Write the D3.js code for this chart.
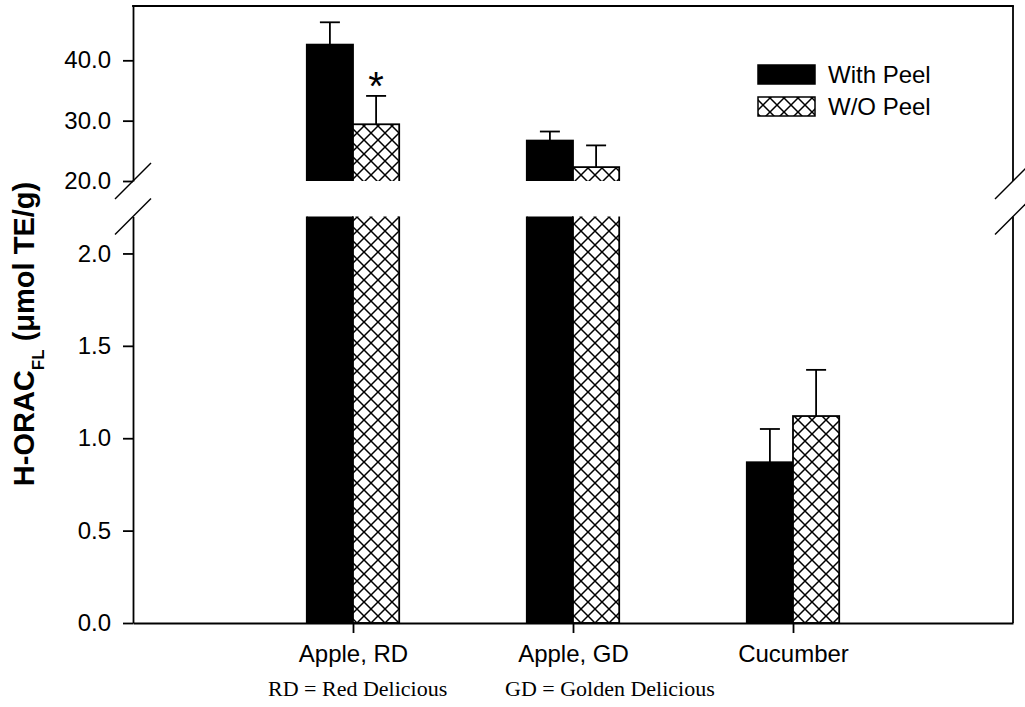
<!DOCTYPE html>
<html>
<head>
<meta charset="utf-8">
<script src="https://cdn.jsdelivr.net/npm/d3@7"></script>
<style>
  html, body { margin: 0; padding: 0; background: #fff; }
  svg { display: block; }
</style>
</head>
<body>
<div id="chart"></div>
<script>
// ---- data ----
const categories = ["Apple, RD", "Apple, GD", "Cucumber"];
const seriesNames = ["With Peel", "W/O Peel"];
const withPeel = [42.6, 26.7, 0.87];
const withPeelErr = [3.7, 1.5, 0.18];
const woPeel = [29.4, 22.3, 1.12];
const woPeelErr = [4.7, 3.6, 0.25];
const upperTicks = [20, 30, 40];
const lowerTicks = [0, 0.5, 1.0, 1.5, 2.0];
const significance = ["*", "", ""]; // marker on W/O Peel bars
const footnotes = ["RD = Red Delicious", "GD = Golden Delicious"];

// ---- layout ----
const W = 1025, H = 707;
const SANS = "Liberation Sans, Arial, sans-serif";
const SERIF = "Liberation Serif, Times New Roman, serif";
const svg = d3.select("#chart").append("svg").attr("width", W).attr("height", H)
  .attr("font-family", SANS);

const x = d3.scaleLinear().domain([0, 4]).range([133, 1013]);
const yUp = d3.scaleLinear().domain([20, 49]).range([181, 6]);
const yLow = d3.scaleLinear().domain([0, 2.2]).range([623, 216.5]);
const lowMax = 2.2, upMin = 20;
const barW = x(0.21) - x(0);
const lw = 1.8;

const defs = svg.append("defs");
const pat = defs.append("pattern").attr("id", "hatch")
  .attr("patternUnits", "userSpaceOnUse").attr("width", 14).attr("height", 14);
pat.append("rect").attr("width", 14).attr("height", 14).attr("fill", "#fff");
pat.append("path").attr("d", "M0,0 L14,14 M14,0 L0,14")
  .attr("stroke", "#000").attr("stroke-width", 1.5);

defs.append("clipPath").attr("id", "clipUp").append("rect")
  .attr("x", x(0)).attr("y", yUp(49)).attr("width", x(4) - x(0)).attr("height", yUp(upMin) - yUp(49));
defs.append("clipPath").attr("id", "clipLow").append("rect")
  .attr("x", x(0)).attr("y", yLow(lowMax)).attr("width", x(4) - x(0)).attr("height", yLow(0) - yLow(lowMax));

const series = [
  { name: seriesNames[0], vals: withPeel, errs: withPeelErr, fill: "#000", off: -1 },
  { name: seriesNames[1], vals: woPeel, errs: woPeelErr, fill: "url(#hatch)", off: 0 }
];

const gUp = svg.append("g").attr("clip-path", "url(#clipUp)");
const gLow = svg.append("g").attr("clip-path", "url(#clipLow)");

series.forEach(s => {
  s.vals.forEach((v, i) => {
    const x0 = x(i + 1) + s.off * barW;
    // lower segment (bar runs past the break and is clipped there)
    const lowTop = v > lowMax ? yLow(lowMax) - 20 : yLow(v);
    gLow.append("rect")
      .attr("x", x0).attr("width", barW)
      .attr("y", lowTop).attr("height", yLow(0) - lowTop)
      .attr("fill", s.fill).attr("stroke", "#000").attr("stroke-width", lw);
    // upper segment
    if (v > upMin) {
      gUp.append("rect")
        .attr("x", x0).attr("width", barW)
        .attr("y", yUp(v)).attr("height", yUp(upMin) + 20 - yUp(v))
        .attr("fill", s.fill).attr("stroke", "#000").attr("stroke-width", lw);
    }
    // error bar (upper only)
    const sc = v > upMin ? yUp : yLow;
    const cx = x0 + barW / 2;
    const top = sc(v + s.errs[i]);
    svg.append("line").attr("x1", cx).attr("x2", cx).attr("y1", sc(v)).attr("y2", top)
      .attr("stroke", "#000").attr("stroke-width", lw);
    svg.append("line").attr("x1", cx - 10).attr("x2", cx + 10).attr("y1", top).attr("y2", top)
      .attr("stroke", "#000").attr("stroke-width", lw);
    if (s.off === 0 && significance[i]) {
      svg.append("text").attr("x", cx).attr("y", top + 4)
        .attr("text-anchor", "middle").attr("font-size", 40).text(significance[i]);
    }
  });
});

// ---- axes ----
const fmt = d3.format(".1f");
const axUp = svg.append("g").attr("transform", `translate(${x(0)},0)`)
  .call(d3.axisLeft(yUp).tickValues(upperTicks).tickFormat(fmt).tickSize(10).tickSizeOuter(0).tickPadding(12));
const axLow = svg.append("g").attr("transform", `translate(${x(0)},0)`)
  .call(d3.axisLeft(yLow).tickValues(lowerTicks).tickFormat(fmt).tickSize(10).tickSizeOuter(0).tickPadding(12));
const axX = svg.append("g").attr("transform", `translate(0,${yLow(0)})`)
  .call(d3.axisBottom(x).tickValues([1, 2, 3]).tickFormat(d => categories[d - 1]).tickSize(10).tickSizeOuter(0).tickPadding(12));

[axUp, axLow, axX].forEach(a => {
  a.selectAll("path, line").attr("stroke", "#000").attr("stroke-width", lw);
  a.selectAll("text").attr("font-size", 24).attr("font-family", SANS).attr("fill", "#000");
});

// right axis and top frame
svg.append("line").attr("x1", x(4)).attr("x2", x(4)).attr("y1", yUp(49)).attr("y2", yUp(upMin))
  .attr("stroke", "#000").attr("stroke-width", lw);
svg.append("line").attr("x1", x(4)).attr("x2", x(4)).attr("y1", yLow(lowMax)).attr("y2", yLow(0))
  .attr("stroke", "#000").attr("stroke-width", lw);
svg.append("line").attr("x1", x(0) - lw / 2).attr("x2", x(4) + lw / 2).attr("y1", yUp(49)).attr("y2", yUp(49))
  .attr("stroke", "#000").attr("stroke-width", lw);

// break marks
[x(0), x(4)].forEach(ax => {
  [yUp(upMin), yLow(lowMax)].forEach(by => {
    svg.append("line").attr("x1", ax - 18).attr("y1", by + 18).attr("x2", ax + 18).attr("y2", by - 18)
      .attr("stroke", "#000").attr("stroke-width", 1.5);
  });
});

// y title
const yt = svg.append("text")
  .attr("transform", "translate(34,334) rotate(-90)")
  .attr("text-anchor", "middle")
  .attr("font-size", 29).attr("font-weight", "bold");
yt.append("tspan").text("H-ORAC");
yt.append("tspan").attr("font-size", 17).attr("dy", 10).text("FL");
yt.append("tspan").attr("dy", -10).text(" (\u03BCmol TE/g)");

// legend
const leg = svg.append("g");
series.forEach((s, i) => {
  const ly = 65 + i * 32;
  leg.append("rect").attr("x", 758).attr("y", ly).attr("width", 57).attr("height", 19)
    .attr("fill", s.fill).attr("stroke", "#000").attr("stroke-width", 1.5);
  leg.append("text").attr("x", 828).attr("y", ly + 18).attr("font-size", 24).text(s.name);
});

// footnotes
svg.append("text").attr("x", 268).attr("y", 696)
  .attr("font-family", SERIF).attr("font-size", 22).text(footnotes[0]);
svg.append("text").attr("x", 505).attr("y", 696)
  .attr("font-family", SERIF).attr("font-size", 22).text(footnotes[1]);
</script>
</body>
</html>
